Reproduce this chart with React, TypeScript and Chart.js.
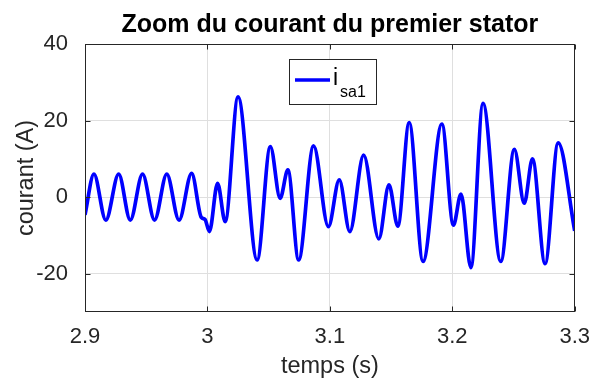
import React, { useEffect, useRef } from 'react';
import { Chart, registerables } from 'chart.js';

Chart.register(...registerables);

// ---- data ----
const times = [
  2.9, 2.9073, 2.917, 2.9275, 2.937, 2.947, 2.9568, 2.9668, 2.9768, 2.9871,
  2.995, 2.998, 3.0016, 3.0083, 3.0145, 3.025, 3.0406, 3.0514, 3.0594, 3.0657,
  3.0745, 3.0867, 3.0988, 3.1077, 3.1163, 3.1276, 3.14, 3.1483, 3.1555, 3.1648,
  3.1761, 3.1915, 3.2009, 3.2071, 3.2152, 3.2251, 3.2396, 3.2507, 3.2588, 3.2655,
  3.2758, 3.2865, 3.3,
];
const current = [
  -4.6, 6.0, -6.0, 6.0, -6.0, 6.0, -6.0, 6.0, -6.0, 6.2,
  -5.3, -5.8, -9.0, 3.6, -6.4, 26.2, -16.4, 13.2, -0.3, 7.1,
  -16.4, 13.4, -7.7, 4.5, -9.0, 11.0, -10.9, 3.2, -7.6, 19.5,
  -16.8, 19.1, -7.3, 0.8, -18.4, 24.5, -16.8, 12.5, -1.6, 10.0,
  -17.4, 14.2, -8.8,
];
const xTicks = [2.9, 3.0, 3.1, 3.2, 3.3];
const xTickLabels = ['2.9', '3', '3.1', '3.2', '3.3'];
const yTicks = [-20, 0, 20, 40];
const yTickLabels = ['-20', '0', '20', '40'];
const xMin = 2.9;
const xMax = 3.3;
const yMin = -30;
const yMax = 40;
const titleText = 'Zoom du courant du premier stator';
const xTitle = 'temps (s)';
const yTitle = 'courant (A)';
const legendMain = 'i';
const legendSub = 'sa1';

const FONT = '"Liberation Sans", Arial, Helvetica, sans-serif';
const AXIS_COLOR = '#262626';
const LINE_COLOR = '#0000ff';

const framePlugin = {
  id: 'matlabFrame',
  afterDraw(chart: any) {
    const { ctx, chartArea: a, scales } = chart;
    ctx.save();
    const seg = (x1: number, y1: number, x2: number, y2: number) => {
      ctx.beginPath();
      ctx.moveTo(x1, y1);
      ctx.lineTo(x2, y2);
      ctx.stroke();
    };
    ctx.strokeStyle = AXIS_COLOR;
    ctx.lineWidth = 1;
    const tl = 5;
    const L = Math.round(a.left) + 0.5;
    const R = Math.round(a.right) - 0.5;
    const T = Math.round(a.top) + 0.5;
    const B = Math.round(a.bottom) - 0.5;
    xTicks.forEach((v) => {
      const px = Math.round(scales.x.getPixelForValue(v)) + 0.5;
      seg(px, T, px, T + tl);
      seg(px, B, px, B - tl);
    });
    yTicks.forEach((v) => {
      const py = Math.round(scales.y.getPixelForValue(v)) + 0.5;
      seg(L, py, L + tl, py);
      seg(R, py, R - tl, py);
    });
    ctx.strokeRect(L, T, R - L, B - T);

    // title
    ctx.fillStyle = '#000';
    ctx.font = `bold 25px ${FONT}`;
    ctx.textAlign = 'center';
    ctx.textBaseline = 'alphabetic';
    ctx.fillText(titleText, (a.left + a.right) / 2, 31.5);

    // legend
    const bx = Math.round(a.left + 204);
    const by = Math.round(a.top + 15);
    const bw = 87;
    const bh = 45;
    ctx.fillStyle = '#fff';
    ctx.fillRect(bx, by, bw, bh);
    ctx.strokeStyle = AXIS_COLOR;
    ctx.lineWidth = 1;
    ctx.strokeRect(bx + 0.5, by + 0.5, bw, bh);
    ctx.strokeStyle = LINE_COLOR;
    ctx.lineWidth = 3.5;
    seg(bx + 6, by + 21, bx + 41, by + 21);
    ctx.fillStyle = '#000';
    ctx.textAlign = 'left';
    ctx.font = `23px ${FONT}`;
    ctx.fillText(legendMain, bx + 44, by + 26);
    ctx.font = `16px ${FONT}`;
    ctx.fillText(legendSub, bx + 51, by + 38);
    ctx.restore();
  },
};

export default function App() {
  const ref = useRef<HTMLCanvasElement | null>(null);
  useEffect(() => {
    document.body.style.margin = '0';
    if (!ref.current) return;
    const chart = new Chart(ref.current, {
      type: 'line',
      data: {
        datasets: [
          {
            label: 'isa1',
            data: times.map((t, i) => ({ x: t, y: current[i] })),
            borderColor: LINE_COLOR,
            backgroundColor: LINE_COLOR,
            borderWidth: 3.7,
            pointRadius: 0,
            cubicInterpolationMode: 'monotone',
            fill: false,
          },
        ],
      },
      options: {
        animation: false,
        responsive: false,
        maintainAspectRatio: false,
        layout: { padding: { top: 44, right: 22, left: 0, bottom: 0 } },
        plugins: {
          legend: { display: false },
          title: { display: false },
          tooltip: { enabled: false },
        },
        scales: {
          x: {
            type: 'linear',
            min: xMin,
            max: xMax,
            afterBuildTicks: (s: any) => {
              s.ticks = xTicks.map((v) => ({ value: v }));
            },
            afterFit: (s: any) => {
              s.height = 69;
            },
            ticks: {
              autoSkip: false,
              maxRotation: 0,
              padding: 12,
              color: AXIS_COLOR,
              font: { family: FONT, size: 22 },
              callback: (_v: any, i: number) => xTickLabels[i],
            },
            grid: { color: '#dfdfdf', drawTicks: false, lineWidth: 1 },
            border: { display: false },
            title: {
              display: true,
              text: xTitle,
              color: AXIS_COLOR,
              font: { family: FONT, size: 23.5 },
              padding: { top: 0, bottom: 0 },
            },
          },
          y: {
            type: 'linear',
            min: yMin,
            max: yMax,
            afterBuildTicks: (s: any) => {
              s.ticks = yTicks.map((v) => ({ value: v }));
            },
            afterFit: (s: any) => {
              s.width = 85;
            },
            ticks: {
              autoSkip: false,
              padding: 17,
              color: AXIS_COLOR,
              font: { family: FONT, size: 22 },
              callback: (_v: any, i: number) => yTickLabels[i],
            },
            grid: { color: '#dfdfdf', drawTicks: false, lineWidth: 1 },
            border: { display: false },
            title: {
              display: true,
              text: yTitle,
              color: AXIS_COLOR,
              font: { family: FONT, size: 23.5 },
              padding: { top: 12, bottom: 0 },
            },
          },
        },
      },
      plugins: [framePlugin],
    } as any);
    return () => chart.destroy();
  }, []);
  return (
    <div style={{ position: 'fixed', left: 0, top: 0, width: 602, height: 381, background: '#fff' }}>
      <canvas ref={ref} width={602} height={381} style={{ width: 602, height: 381, display: 'block' }} />
    </div>
  );
}
